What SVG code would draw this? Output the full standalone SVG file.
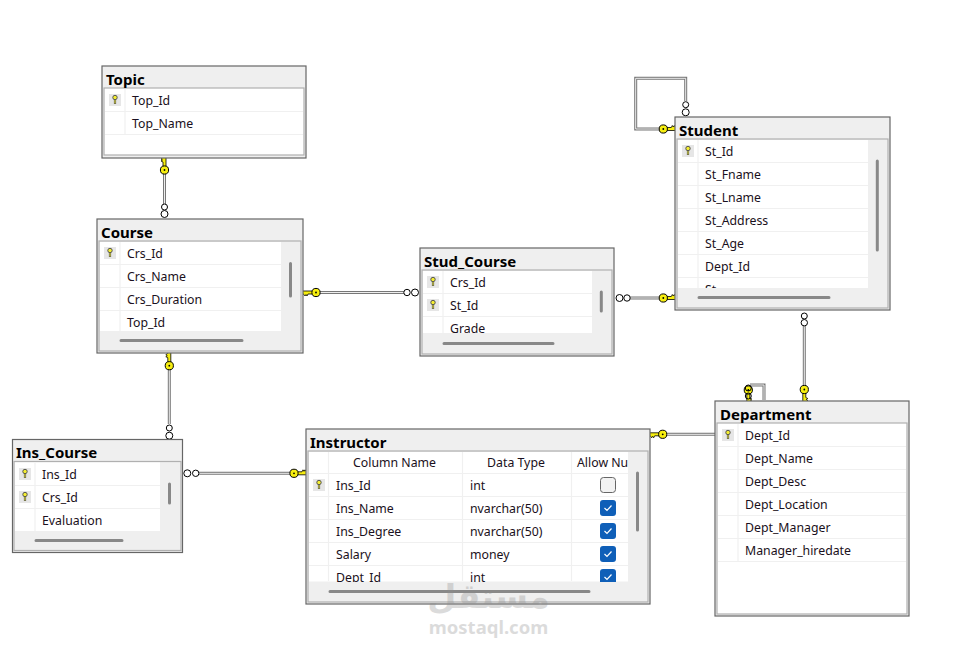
<svg xmlns="http://www.w3.org/2000/svg" xmlns:xlink="http://www.w3.org/1999/xlink" width="978" height="650" viewBox="0 0 978 650">
<style>
text{font-family:"Noto Sans","Open Sans","Liberation Sans",sans-serif;fill:#1a1020}
.t{font-size:12.3px}
.h{font-size:15px;font-weight:700;fill:#000}
.o{fill:#efefef;stroke:#666;stroke-width:1.2}
.i{fill:#fff;stroke:#b0b0b0;stroke-width:1.2}
.w{fill:#fff;stroke:none}
.s{stroke:#f0f0f0;stroke-width:1.2;fill:none}
.b{stroke:#888;stroke-width:3;stroke-linecap:round;fill:none}
.l1{stroke:#777;stroke-width:3;fill:none}
.l2{stroke:#eee;stroke-width:1;fill:none}
.z{fill:#fff;stroke:#000;stroke-width:1}
.c{font-size:12.3px;text-anchor:middle}
text.wm{fill:#8c8c8c;opacity:.3;font-weight:700;text-anchor:middle}
</style>
<defs>
<g id="pk"><rect x="-6" y="-6" width="12" height="12" fill="#e6e6e6"/><circle cx="0" cy="-2.500" r="2.200" fill="#f4ee30" stroke="#555" stroke-width="1"/><path d="M0 0V4" stroke="#555" stroke-width="2.200"/><path d="M0 0V3.500" stroke="#f4ee30" stroke-width=".9"/></g>
<g id="fk"><path d="M3 -1.500H8L9 -3.500L10 -2L11 -3.500L12 -2L13 -1.500H14.500V1.500H3Z" fill="#f6ee10" stroke="#000" stroke-width=".8"/><circle r="4.100" fill="#f6ee10" stroke="#000" stroke-width="1"/><circle r=".9" fill="#000"/></g>
<g id="ck"><rect x="-8" y="-8" width="16" height="16" rx="3" fill="#0f5fb8"/><path d="M-3.500 0L-1 2.500L3.500 -2.500" fill="none" stroke="#fff" stroke-width="1.200"/></g>
<clipPath id="cCourse"><rect x="99" y="241" width="182" height="90"/></clipPath>
<clipPath id="cStud"><rect x="423" y="270" width="169" height="63"/></clipPath>
<clipPath id="cStudent"><rect x="677" y="139" width="191" height="149"/></clipPath>
<clipPath id="cIC"><rect x="14" y="462" width="146" height="69"/></clipPath>
<clipPath id="cIns"><rect x="308" y="451" width="320" height="131"/></clipPath>
</defs>

<g id="connectors">
<path class="l1" d="M164.500 172V204"/><path class="l2" d="M164.500 172V204"/>
<path class="l1" d="M320 292.500H404"/><path class="l2" d="M320 292.500H404"/>
<path class="l1" d="M630 298H660"/><path class="l2" d="M630 298H660"/>
<path class="l1" d="M685.700 101V78.300H635.700V129H660"/><path class="l2" d="M685.700 101V78.300H635.700V129H660"/>
<path class="l1" d="M804.300 326V387"/><path class="l2" d="M804.300 326V387"/>
<path class="l1" d="M750 385H764V400"/><path class="l2" d="M750 385H764V400"/>
<path class="l1" d="M666 434.300H715"/><path class="l2" d="M666 434.300H715"/>
<path class="l1" d="M169.300 369V424"/><path class="l2" d="M169.300 369V424"/>
<path class="l1" d="M199 473.300H291"/><path class="l2" d="M199 473.300H291"/>
<g id="ends">
<use xlink:href="#fk" href="#fk" transform="translate(164.500 170) rotate(-90)"/>
<circle class="z" cx="164.500" cy="207" r="3"/><circle class="z" cx="164.500" cy="214" r="3.500"/>
<use xlink:href="#fk" href="#fk" transform="translate(316 292.500) rotate(180)"/>
<circle class="z" cx="407" cy="292.500" r="3.200"/><circle class="z" cx="415" cy="292.500" r="3.500"/>
<circle class="z" cx="619.500" cy="298" r="3.500"/><circle class="z" cx="627" cy="298" r="3.200"/>
<use xlink:href="#fk" href="#fk" transform="translate(663.300 298)"/>
<circle class="z" cx="685.700" cy="104.700" r="3"/><circle class="z" cx="685.700" cy="112.300" r="3.500"/>
<use xlink:href="#fk" href="#fk" transform="translate(663.300 129)"/>
<circle class="z" cx="804.300" cy="316" r="3"/><circle class="z" cx="804.300" cy="322.700" r="3.200"/>
<use xlink:href="#fk" href="#fk" transform="translate(804.300 389.500) rotate(90)"/>
<use xlink:href="#fk" href="#fk" transform="translate(748.300 390) rotate(90)"/>
<circle class="z" cx="748.300" cy="388" r="3" style="fill:none"/><circle class="z" cx="748.300" cy="396" r="3" style="fill:none"/>
<use xlink:href="#fk" href="#fk" transform="translate(662.700 434.300) rotate(180)"/>
<use xlink:href="#fk" href="#fk" transform="translate(169.300 365.700) rotate(-90)"/>
<circle class="z" cx="169.300" cy="428" r="3"/><circle class="z" cx="169.300" cy="435.700" r="3.500"/>
<circle class="z" cx="187.300" cy="473.300" r="3.500"/><circle class="z" cx="195.700" cy="473.300" r="3.200"/>
<use xlink:href="#fk" href="#fk" transform="translate(294 473.300)"/>
</g>
</g>

<g id="Topic">
<rect class="o" x="102" y="66" width="204" height="92"/>
<rect class="i" x="104" y="88" width="200" height="67"/>
<text class="h" x="106" y="85">Topic</text>
<path class="s" d="M105 111.500H303M105 134.500H303M125 89V134"/>
<use xlink:href="#pk" href="#pk" transform="translate(115 100)"/>
<text class="t" x="132" y="105">Top_Id</text>
<text class="t" x="132" y="128">Top_Name</text>
</g>

<g id="Course">
<rect class="o" x="97" y="219" width="206" height="134"/>
<rect class="i" x="99" y="241" width="202" height="110" style="fill:#efefef"/>
<rect class="w" x="100" y="242" width="181" height="89"/>
<text class="h" x="101" y="238">Course</text>
<path class="s" d="M100 264.500H281M100 287.500H281M100 310.500H281M120 242V331"/>
<use xlink:href="#pk" href="#pk" transform="translate(110 253)"/>
<g clip-path="url(#cCourse)">
<text class="t" x="127" y="258">Crs_Id</text>
<text class="t" x="127" y="281">Crs_Name</text>
<text class="t" x="127" y="304">Crs_Duration</text>
<text class="t" x="127" y="327">Top_Id</text>
</g>
<path class="b" d="M290.500 263.500V296M121 340.500H242"/>
</g>

<g id="Stud_Course">
<rect class="o" x="420" y="248" width="194" height="108"/>
<rect class="i" x="422" y="270" width="190" height="84" style="fill:#efefef"/>
<rect class="w" x="423" y="271" width="169" height="62"/>
<text class="h" x="424" y="267">Stud_Course</text>
<path class="s" d="M423 293.500H592M423 316.500H592M443 271V333"/>
<use xlink:href="#pk" href="#pk" transform="translate(433 282)"/>
<use xlink:href="#pk" href="#pk" transform="translate(433 305)"/>
<g clip-path="url(#cStud)">
<text class="t" x="450" y="287">Crs_Id</text>
<text class="t" x="450" y="310">St_Id</text>
<text class="t" x="450" y="333">Grade</text>
</g>
<path class="b" d="M601.300 292V311M444 343.500H553"/>
</g>

<g id="Student">
<rect class="o" x="675" y="117" width="215" height="193"/>
<rect class="i" x="677" y="139" width="211" height="169" style="fill:#efefef"/>
<rect class="w" x="678" y="140" width="190" height="148"/>
<text class="h" x="679" y="136">Student</text>
<path class="s" d="M678 162.500H868M678 185.500H868M678 208.500H868M678 231.500H868M678 254.500H868M678 277.500H868M698 140V288"/>
<use xlink:href="#pk" href="#pk" transform="translate(688 151)"/>
<g clip-path="url(#cStudent)">
<text class="t" x="705" y="156">St_Id</text>
<text class="t" x="705" y="179">St_Fname</text>
<text class="t" x="705" y="202">St_Lname</text>
<text class="t" x="705" y="225">St_Address</text>
<text class="t" x="705" y="248">St_Age</text>
<text class="t" x="705" y="271">Dept_Id</text>
<text class="t" x="705" y="294">St</text>
</g>
<path class="b" d="M877.300 161V250M699 297.500H829"/>
</g>

<g id="Ins_Course">
<rect class="o" x="12.500" y="439.500" width="170" height="113"/>
<rect class="i" x="14" y="461.500" width="167" height="89" style="fill:#efefef"/>
<rect class="w" x="15" y="462.500" width="145" height="68.500"/>
<text class="h" x="16" y="458">Ins_Course</text>
<path class="s" d="M15 485.500H160M15 508.500H160M35 463V531"/>
<use xlink:href="#pk" href="#pk" transform="translate(25 474)"/>
<use xlink:href="#pk" href="#pk" transform="translate(25 497)"/>
<g clip-path="url(#cIC)">
<text class="t" x="42" y="479">Ins_Id</text>
<text class="t" x="42" y="502">Crs_Id</text>
<text class="t" x="42" y="525">Evaluation</text>
</g>
<path class="b" d="M169.500 484V503M36 540.500H122"/>
</g>

<g id="Instructor">
<rect class="o" x="306" y="429" width="344" height="175"/>
<rect class="i" x="308" y="451" width="340" height="151" style="fill:#efefef"/>
<rect class="w" x="309" y="452" width="319" height="129.500"/>
<text class="h" x="310" y="448">Instructor</text>
<path class="s" d="M309 473.500H628M309 496.500H628M309 519.500H628M309 542.500H628M309 565.500H628M328.500 452V581M462.500 452V581M571.500 452V581"/>
<use xlink:href="#pk" href="#pk" transform="translate(319 485)"/>
<g clip-path="url(#cIns)">
<text class="c" x="394.500" y="467">Column Name</text>
<text class="c" x="516" y="467">Data Type</text>
<text class="t" x="577" y="467">Allow Nulls</text>
<text class="t" x="336" y="490">Ins_Id</text><text class="t" x="470" y="490">int</text>
<text class="t" x="336" y="513">Ins_Name</text><text class="t" x="470" y="513">nvarchar(50)</text>
<text class="t" x="336" y="536">Ins_Degree</text><text class="t" x="470" y="536">nvarchar(50)</text>
<text class="t" x="336" y="559">Salary</text><text class="t" x="470" y="559">money</text>
<text class="t" x="336" y="582">Dept_Id</text><text class="t" x="470" y="582">int</text>
<rect x="600.500" y="477.500" width="15" height="15" rx="3" fill="#f2f2f2" stroke="#666"/>
<use xlink:href="#ck" href="#ck" transform="translate(608 508)"/>
<use xlink:href="#ck" href="#ck" transform="translate(608 531)"/>
<use xlink:href="#ck" href="#ck" transform="translate(608 554)"/>
<use xlink:href="#ck" href="#ck" transform="translate(608 577)"/>
</g>
<path class="b" d="M637.500 473V530M330 591.500H589"/>
</g>

<g id="Department">
<rect class="o" x="715" y="401" width="194" height="215"/>
<rect class="i" x="717" y="423" width="190" height="191"/>
<text class="h" x="720" y="420">Department</text>
<path class="s" d="M718 446.500H906M718 469.500H906M718 492.500H906M718 515.500H906M718 538.500H906M718 561.500H906M738 424V561"/>
<use xlink:href="#pk" href="#pk" transform="translate(728 435)"/>
<text class="t" x="745" y="440">Dept_Id</text>
<text class="t" x="745" y="463">Dept_Name</text>
<text class="t" x="745" y="486">Dept_Desc</text>
<text class="t" x="745" y="509">Dept_Location</text>
<text class="t" x="745" y="532">Dept_Manager</text>
<text class="t" x="745" y="555">Manager_hiredate</text>
</g>

<g id="watermark">
<text class="wm" x="488.500" y="608" font-size="33.500" style="font-family:'DejaVu Sans','Noto Sans',sans-serif">مستقل</text>
<text class="wm" x="488.500" y="634" font-size="18.500" style="font-family:'Noto Sans',sans-serif">mostaql.com</text>
</g>
</svg>
